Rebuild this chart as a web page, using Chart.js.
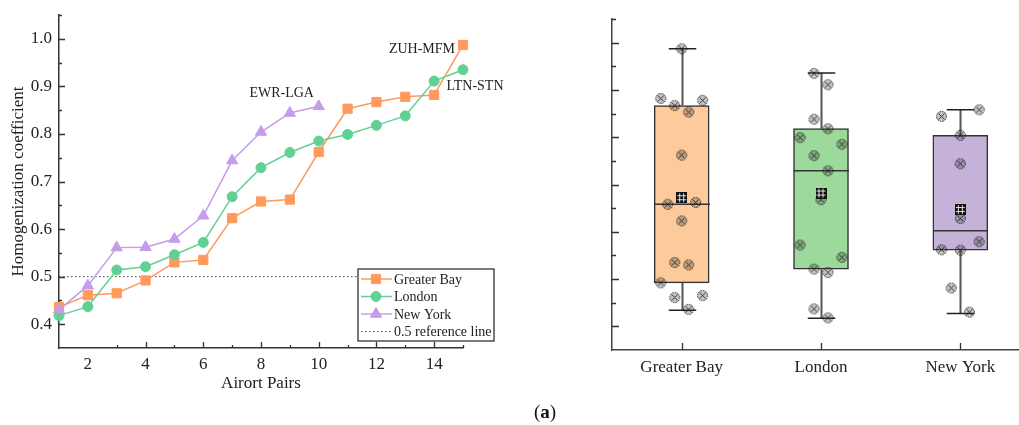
<!DOCTYPE html>
<html>
<head>
<meta charset="utf-8">
<script src="https://cdn.jsdelivr.net/npm/chart.js"></script>
<style>
body{margin:0;width:1019px;height:425px;overflow:hidden;background:#fff;position:relative}
#left{position:absolute;left:0;top:0}
#right{position:absolute;left:540px;top:0}
#cap{position:absolute;left:495px;width:100px;top:399px;text-align:center;font:19px "Liberation Serif",serif;color:#111;line-height:26px}
</style>
</head>
<body>
<canvas id="left" width="540" height="400"></canvas>
<canvas id="right" width="500" height="400"></canvas>
<div id="cap">(<b>a</b>)</div>
<script>
// left panel: homogenization coefficient per airport pair
var pairs = [1,2,3,4,5,6,7,8,9,10,11,12,13,14,15];
var greaterBay = [0.436,0.461,0.465,0.492,0.530,0.535,0.623,0.658,0.662,0.762,0.853,0.867,0.878,0.882,0.987];
var london = [0.418,0.437,0.514,0.521,0.546,0.572,0.668,0.729,0.761,0.785,0.799,0.818,0.838,0.911,0.935];
var newYork = [0.430,0.481,0.561,0.562,0.579,0.628,0.744,0.804,0.844,0.858];
var refValue = 0.5;
var xTicks = [2,4,6,8,10,12,14];
var yTicks = [0.4,0.5,0.6,0.7,0.8,0.9,1.0];

// right panel: box plot stats
var regions = ['Greater Bay','London','New York'];
var boxMin = [0.434,0.417,0.427];
var boxQ1 = [0.492,0.521,0.561];
var boxMedian = [0.658,0.729,0.602];
var boxQ3 = [0.867,0.818,0.804];
var boxMax = [0.987,0.936,0.858];
var boxMean = [0.672,0.682,0.647];
// horizontal jitter of the raw points (category units)
var gbJitter = [0.05,-0.05,0.15,-0.15,0.05,-0.05,0,-0.1,0.1,0,0.05,-0.05,0.15,-0.15,0];
var ldJitter = [0.05,-0.05,0.05,-0.05,0.15,-0.15,0,0.05,-0.05,0.15,-0.15,0.05,-0.05,0.05,-0.05];
var nyJitter = [0.065,-0.065,0,-0.135,0.135,0,0,0,-0.135,0.135];

var lineColors = ['#FF9A5C','#62D095','#C59CEB'];
var boxFills = ['#FCCA9B','#9ED99C','#C4B2D8'];

Chart.defaults.font.family = '"Liberation Serif", serif';
Chart.defaults.color = '#222';

function toXY(vals){
  return vals.map(function(v,i){ return {x: pairs[i], y: v}; });
}

function makeDot(){
  var c = document.createElement('canvas');
  c.width = 13; c.height = 13;
  var g = c.getContext('2d');
  g.fillStyle = 'rgba(60,60,60,0.3)';
  g.beginPath(); g.arc(6.5,6.5,5,0,Math.PI*2); g.fill();
  g.strokeStyle = 'rgba(20,20,20,0.85)';
  g.lineWidth = 1;
  g.setLineDash([1.6,1]);
  g.beginPath(); g.arc(6.5,6.5,5,0,Math.PI*2); g.stroke();
  g.setLineDash([]);
  g.strokeStyle = 'rgba(20,20,20,0.8)';
  g.beginPath(); g.moveTo(3.5,3.5); g.lineTo(9.5,9.5); g.moveTo(9.5,3.5); g.lineTo(3.5,9.5); g.stroke();
  return c;
}
function makeMean(){
  var c = document.createElement('canvas');
  c.width = 11; c.height = 11;
  var g = c.getContext('2d');
  g.fillStyle = '#111';
  g.fillRect(0,0,11,11);
  g.strokeStyle = 'rgba(255,255,255,0.85)';
  g.lineWidth = 1;
  g.beginPath();
  [3.5,7.5].forEach(function(p){ g.moveTo(p,1); g.lineTo(p,10); g.moveTo(1,p); g.lineTo(10,p); });
  g.stroke();
  return c;
}

// ticks that point into the plot, like the original
function inTicks(id, xList, yList){
  return {
    id: id,
    afterDraw: function(chart){
      var ctx = chart.ctx, a = chart.chartArea;
      ctx.save();
      ctx.strokeStyle = '#333';
      ctx.lineWidth = 1.3;
      ctx.beginPath();
      xList.forEach(function(t){
        var px = Math.round(chart.scales.x.getPixelForValue(t[0])) + 0.5;
        ctx.moveTo(px, a.bottom); ctx.lineTo(px, a.bottom - t[1]);
      });
      yList.forEach(function(t){
        var py = Math.round(chart.scales.y.getPixelForValue(t[0])) + 0.5;
        ctx.moveTo(a.left, py); ctx.lineTo(a.left + t[1], py);
      });
      ctx.stroke();
      ctx.restore();
    }
  };
}

var leftX = [], leftY = [], rightY = [];
pairs.slice(2).forEach(function(v){ leftX.push([v, v % 2 === 0 ? 6 : 3]); });
yTicks.forEach(function(v){
  leftY.push([v,6]); leftY.push([v+0.05,3]);
  rightY.push([v,7]); rightY.push([v+0.05,4]);
});

var annot = {
  id: 'annot',
  afterDatasetsDraw: function(chart){
    var ctx = chart.ctx;
    ctx.save();
    ctx.font = '14px "Liberation Serif"';
    ctx.fillStyle = '#222';
    ctx.textBaseline = 'middle';
    var p = chart.getDatasetMeta(0).data[14];
    ctx.textAlign = 'right';
    ctx.fillText('ZUH-MFM', p.x - 8, p.y + 4);
    p = chart.getDatasetMeta(2).data[9];
    ctx.textAlign = 'center';
    ctx.fillText('EWR-LGA', p.x - 37, p.y - 13);
    p = chart.getDatasetMeta(1).data[14];
    ctx.fillText('LTN-STN', p.x + 12, p.y + 17);
    ctx.restore();
  }
};

var boxLegend = {
  id: 'boxLegend',
  afterDraw: function(chart){
    var ctx = chart.ctx, a = chart.chartArea;
    var l = a.right - 105, r = a.right + 31, t = a.bottom - 79, b = a.bottom - 7;
    ctx.save();
    ctx.fillStyle = '#fff';
    ctx.fillRect(l, t, r - l, b - t);
    ctx.strokeStyle = '#333';
    ctx.lineWidth = 1.3;
    ctx.strokeRect(l, t, r - l, b - t);
    ctx.font = '14px "Liberation Serif"';
    ctx.textBaseline = 'middle';
    chart.data.datasets.forEach(function(ds, i){
      var y = t + 10 + i * 17.5;
      ctx.strokeStyle = ds.borderColor;
      ctx.lineWidth = ds.borderWidth;
      ctx.setLineDash(ds.borderDash || []);
      ctx.beginPath(); ctx.moveTo(l + 3, y); ctx.lineTo(l + 34, y); ctx.stroke();
      ctx.setLineDash([]);
      if (ds.pointRadius > 0) {
        ctx.fillStyle = ds.borderColor;
        ctx.lineWidth = 1;
        Chart.helpers.drawPoint(ctx, {pointStyle: ds.pointStyle, radius: ds.pointRadius, rotation: 0, borderWidth: 1}, l + 18, y);
      }
      ctx.fillStyle = '#222';
      ctx.fillText(ds.label, l + 36, y + 1);
    });
    ctx.restore();
  }
};

function fixY(w){
  return function(s){ s.width = w; s.paddingTop = 0; s.paddingBottom = 0; };
}
function fixX(h){
  return function(s){ s.height = h; s.paddingLeft = 0; s.paddingRight = 0; };
}

new Chart(document.getElementById('left'), {
  type: 'line',
  data: {
    datasets: [
      {label: 'Greater Bay', data: toXY(greaterBay), borderColor: lineColors[0], backgroundColor: lineColors[0],
       borderWidth: 1.5, pointStyle: 'rect', pointRadius: 6.5, pointBorderWidth: 1, order: 2, clip: false},
      {label: 'London', data: toXY(london), borderColor: lineColors[1], backgroundColor: lineColors[1],
       borderWidth: 1.5, pointStyle: 'circle', pointRadius: 5, pointBorderWidth: 1, order: 1, clip: false},
      {label: 'New York', data: toXY(newYork), borderColor: lineColors[2], backgroundColor: lineColors[2],
       borderWidth: 1.5, pointStyle: 'triangle', pointRadius: 6.5, pointBorderWidth: 1, order: 0, clip: false},
      {label: '0.5 reference line', data: [{x: pairs[0], y: refValue}, {x: pairs[pairs.length-1], y: refValue}],
       borderColor: '#444', borderWidth: 1, borderDash: [1.5,2.5], pointRadius: 0, order: 3}
    ]
  },
  options: {
    responsive: false,
    animation: false,
    events: [],
    layout: {padding: {left: 0, top: 15, right: 77, bottom: 0}},
    plugins: {legend: {display: false}, tooltip: {enabled: false}},
    scales: {
      x: {
        type: 'linear', min: 1, max: 15,
        grid: {display: false, drawTicks: false},
        border: {display: true, color: '#333', width: 1.5},
        afterBuildTicks: function(s){ s.ticks = xTicks.map(function(v){ return {value: v}; }); },
        afterFit: fixX(52),
        ticks: {font: {size: 17}, padding: 6, maxRotation: 0},
        title: {display: true, text: 'Airort Pairs', font: {size: 17}, padding: {top: 0, bottom: 6}}
      },
      y: {
        min: 0.35, max: 1.05,
        grid: {display: false, drawTicks: false},
        border: {display: true, color: '#333', width: 1.5},
        afterBuildTicks: function(s){ s.ticks = yTicks.map(function(v){ return {value: v}; }); },
        afterFit: fixY(59),
        ticks: {font: {size: 17}, padding: 7, callback: function(v){ return v.toFixed(1); }},
        title: {display: true, text: 'Homogenization coefficient', font: {size: 17}, padding: {top: 8, bottom: 0}}
      }
    }
  },
  plugins: [inTicks('ticksL', leftX, leftY), annot, boxLegend]
});

var rawPoints = [];
[greaterBay, london, newYork].forEach(function(vals, k){
  var jit = [gbJitter, ldJitter, nyJitter][k];
  vals.forEach(function(v, i){ rawPoints.push({x: k + 1 + jit[i], y: v}); });
});

var whiskers = {
  id: 'whiskers',
  afterDatasetDraw: function(chart, args){
    if (args.index !== 0) return;
    var ctx = chart.ctx, xs = chart.scales.x, ys = chart.scales.y;
    var bars = chart.getDatasetMeta(0).data;
    ctx.save();
    regions.forEach(function(r, i){
      var px = Math.round(xs.getPixelForValue(i + 1)) + 0.5;
      var half = bars[i].width / 2;
      ctx.strokeStyle = '#555';
      ctx.lineWidth = 2;
      ctx.beginPath();
      ctx.moveTo(px, ys.getPixelForValue(boxQ3[i])); ctx.lineTo(px, ys.getPixelForValue(boxMax[i]));
      ctx.moveTo(px, ys.getPixelForValue(boxQ1[i])); ctx.lineTo(px, ys.getPixelForValue(boxMin[i]));
      ctx.stroke();
      ctx.strokeStyle = '#222';
      ctx.lineWidth = 1.5;
      ctx.beginPath();
      ctx.moveTo(px - half / 2, ys.getPixelForValue(boxMax[i])); ctx.lineTo(px + half / 2, ys.getPixelForValue(boxMax[i]));
      ctx.moveTo(px - half / 2, ys.getPixelForValue(boxMin[i])); ctx.lineTo(px + half / 2, ys.getPixelForValue(boxMin[i]));
      ctx.stroke();
      ctx.strokeStyle = '#333';
      ctx.beginPath();
      ctx.moveTo(px - half, ys.getPixelForValue(boxMedian[i])); ctx.lineTo(px + half, ys.getPixelForValue(boxMedian[i]));
      ctx.stroke();
    });
    ctx.restore();
  }
};

new Chart(document.getElementById('right'), {
  type: 'bar',
  data: {
    datasets: [
      {type: 'bar', data: regions.map(function(r, i){ return {x: i + 1, y: [boxQ1[i], boxQ3[i]]}; }),
       backgroundColor: boxFills, borderColor: '#333', borderWidth: 1.5, borderSkipped: false,
       barThickness: 55, order: 2},
      {type: 'scatter', data: rawPoints, pointStyle: makeDot(), order: 1, clip: false},
      {type: 'scatter', data: regions.map(function(r, i){ return {x: i + 1, y: boxMean[i]}; }),
       pointStyle: makeMean(), order: 0, clip: false}
    ]
  },
  options: {
    responsive: false,
    animation: false,
    events: [],
    layout: {padding: {left: 0, top: 19, right: 10, bottom: 0}},
    plugins: {legend: {display: false}, tooltip: {enabled: false}},
    scales: {
      x: {
        type: 'linear', min: 0.5, max: 3.5, offset: false,
        grid: {display: false, drawTicks: false},
        border: {display: true, color: '#444', width: 1.5},
        afterBuildTicks: function(s){ s.ticks = regions.map(function(r, i){ return {value: i + 1}; }); },
        afterFit: fixX(50),
        ticks: {font: {size: 17}, padding: 7, maxRotation: 0, callback: function(v){ return regions[v - 1]; }}
      },
      y: {
        min: 0.35, max: 1.05,
        grid: {display: false, drawTicks: false},
        border: {display: true, color: '#444', width: 1.5},
        afterFit: fixY(72),
        ticks: {display: false}
      }
    }
  },
  plugins: [inTicks('ticksR', [[1,7],[2,7],[3,7]], rightY), whiskers]
});
</script>
</body>
</html>
